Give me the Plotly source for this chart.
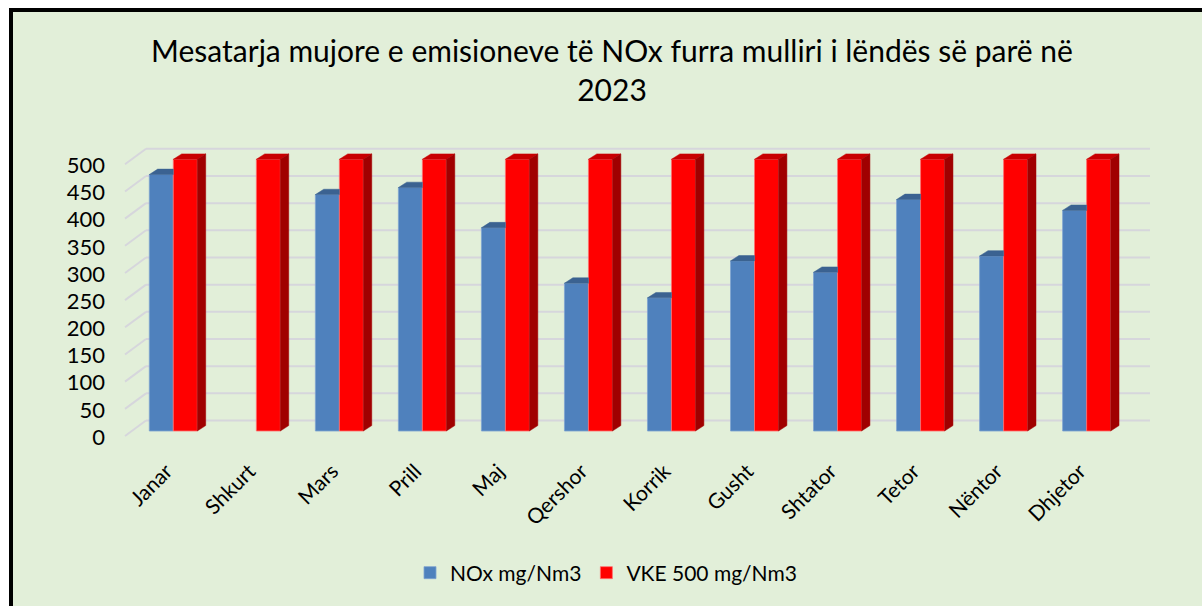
import plotly.graph_objects as go

# ---- data -------------------------------------------------------------
months = ["Janar", "Shkurt", "Mars", "Prill", "Maj", "Qershor",
          "Korrik", "Gusht", "Shtator", "Tetor", "Nëntor", "Dhjetor"]
nox = [472, None, 435, 448, 374, 272, 245, 313, 292, 426, 322, 406]
vke = [500, 500, 500, 500, 500, 500, 500, 500, 500, 500, 500, 500]
y_ticks = [0, 50, 100, 150, 200, 250, 300, 350, 400, 450, 500]
y_tick_labels = ["0", "50", "100", "150", "200", "250", "300", "350", "400", "450", "500"]

title_text = "Mesatarja mujore e emisioneve të NOx furra mulliri i lëndës së parë në<br>2023"
name_nox = "NOx mg/Nm3"
name_vke = "VKE 500 mg/Nm3"

# ---- styling / geometry ------------------------------------------------
FONT = "Lato"
BG = "#E2EFD9"
BLUE, BLUE_TOP = "#4F81BD", "#3B6291"
RED, RED_TOP, RED_SIDE = "#FF0000", "#C80000", "#A00000"
GRID = "#D6D6DC"

W, H = 1202, 606
L, R, T, B = 120, 1160, 140, 440          # plot area in pixels
X0PX, XPU = 173.3, 83.03                  # pixel of x=0, pixels per category
Y0PX, YPU = 431.0, 0.5434                 # pixel of y=0, pixels per unit
x_range = [(L - X0PX) / XPU, (R - X0PX) / XPU]
y_range = [(Y0PX - B) / YPU, (Y0PX - T) / YPU]

BAR_W = 0.289                             # bar width in category units
BDX, BDY = 8.4 / XPU, 5.4 / YPU           # bar depth (3-D look)
WALL_FX, WALL_FY = (125 - X0PX) / XPU, -9.2   # front edge of side wall
WALL_BX, WALL_BY = (146 - X0PX) / XPU, 19.3   # back wall position
WALL_RX = (1150 - X0PX) / XPU                 # right end of back wall


def px2paper_x(px):
    return (px - L) / (R - L)


def px2paper_y(py):
    return (B - py) / (B - T)


x_idx = list(range(len(months)))

fig = go.Figure()

# front faces of the columns
fig.add_trace(go.Bar(x=x_idx, y=nox, width=BAR_W, offset=-BAR_W, name=name_nox,
                     marker=dict(color=BLUE, line=dict(color="#7FA3D0", width=0.8))))
fig.add_trace(go.Bar(x=x_idx, y=vke, width=BAR_W, offset=0, name=name_vke,
                     marker=dict(color=RED, line=dict(color="#FF7070", width=0.8))))


def faces(xs, ys, kind):
    px, py = [], []
    for x, h in zip(xs, ys):
        if h is None:
            continue
        if kind == "top_clipped":      # top face, right part hidden by next column
            pts = [(x, h), (x + BAR_W, h), (x + BAR_W, h + BDY), (x + BDX, h + BDY)]
        elif kind == "top":
            pts = [(x, h), (x + BAR_W, h), (x + BAR_W + BDX, h + BDY), (x + BDX, h + BDY)]
        else:                          # right side face
            xr = x + BAR_W
            pts = [(xr, 0), (xr + BDX, BDY), (xr + BDX, h + BDY), (xr, h)]
        for a, b in pts + [pts[0]]:
            px.append(a)
            py.append(b)
        px.append(None)
        py.append(None)
    return px, py


for kind, xs, ys, col in [
    ("top_clipped", [i - BAR_W for i in x_idx], nox, BLUE_TOP),
    ("top", x_idx, vke, RED_TOP),
    ("side", x_idx, vke, RED_SIDE),
]:
    fx, fy = faces(xs, ys, kind)
    fig.add_trace(go.Scatter(x=fx, y=fy, mode="lines", fill="toself", fillcolor=col,
                             line=dict(color=col, width=0.5), showlegend=False,
                             hoverinfo="skip"))

# back-wall gridlines and side-wall diagonals
shapes = []
for v in y_ticks:
    shapes.append(dict(type="line", xref="x", yref="y", layer="below",
                       x0=WALL_BX, y0=v + WALL_BY, x1=WALL_RX, y1=v + WALL_BY,
                       line=dict(color=GRID, width=2)))
    shapes.append(dict(type="line", xref="x", yref="y", layer="below",
                       x0=WALL_FX, y0=v + WALL_FY, x1=WALL_BX, y1=v + WALL_BY,
                       line=dict(color=GRID, width=2)))

# chart frame: white outside, black top/left edge
shapes.append(dict(type="rect", xref="paper", yref="paper", layer="above",
                   x0=px2paper_x(-5), x1=px2paper_x(9), y0=px2paper_y(-5), y1=px2paper_y(W),
                   fillcolor="white", line=dict(width=0)))
shapes.append(dict(type="rect", xref="paper", yref="paper", layer="above",
                   x0=px2paper_x(-5), x1=px2paper_x(W + 5), y0=px2paper_y(-5), y1=px2paper_y(8),
                   fillcolor="white", line=dict(width=0)))
shapes.append(dict(type="rect", xref="paper", yref="paper", layer="above",
                   x0=px2paper_x(11), x1=px2paper_x(W + 40), y0=px2paper_y(10), y1=px2paper_y(H + 40),
                   fillcolor="rgba(0,0,0,0)", line=dict(color="black", width=4)))

fig.update_layout(
    width=W, height=H,
    margin=dict(l=L, r=W - R, t=T, b=H - B, pad=0),
    paper_bgcolor=BG, plot_bgcolor="rgba(0,0,0,0)",
    barmode="overlay",
    font=dict(family=FONT, color="black", size=20),
    title=dict(text=title_text, x=612 / W, xanchor="center",
               y=1 - 62 / H, yanchor="top", xref="container", yref="container",
               font=dict(family=FONT, size=30, color="black")),
    xaxis=dict(range=x_range, tickvals=x_idx, ticktext=months, tickangle=-45,
               showgrid=False, zeroline=False, showline=False, ticks="",
               ticklabelstandoff=14, ticklabelshift=-7, tickfont=dict(size=21)),
    yaxis=dict(range=y_range, tickvals=y_ticks, ticktext=y_tick_labels,
               showgrid=False, zeroline=False, showline=False, ticks="",
               ticklabelshift=6, ticklabelstandoff=14, tickfont=dict(size=22)),
    legend=dict(orientation="h", x=px2paper_x(606), xanchor="center",
                y=px2paper_y(573), yanchor="middle", font=dict(size=21),
                bgcolor="rgba(0,0,0,0)", itemwidth=30),
    shapes=shapes,
    showlegend=True,
)

fig.write_html("out.html")
